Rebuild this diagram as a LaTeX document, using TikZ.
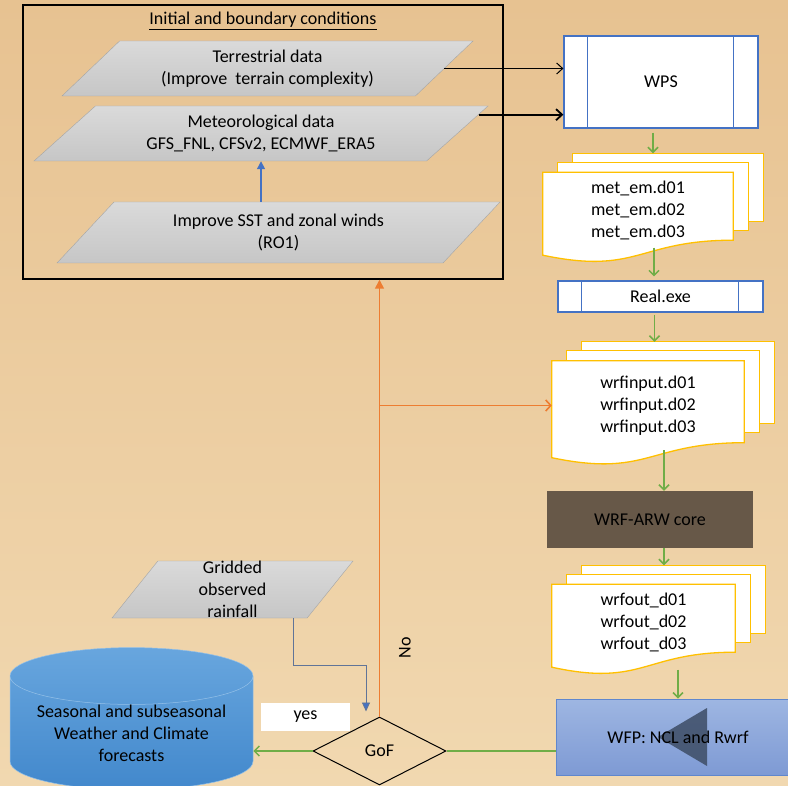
\documentclass[tikz,border=0pt]{standalone}
\usepackage{fontspec}
\setmainfont{Carlito}
\usetikzlibrary{shapes.geometric, arrows.meta, positioning, calc, backgrounds}
\definecolor{bgtop}{RGB}{231,194,145}
\definecolor{bgbot}{RGB}{241,216,176}
\definecolor{datatop}{RGB}{218,218,218}
\definecolor{databot}{RGB}{198,198,198}
\definecolor{dataedge}{RGB}{165,165,165}
\definecolor{progblue}{RGB}{68,114,196}
\definecolor{docyellow}{RGB}{255,192,0}
\definecolor{flowgreen}{RGB}{112,173,71}
\definecolor{looporange}{RGB}{237,125,49}
\definecolor{corebrown}{RGB}{103,88,72}
\definecolor{wfptop}{RGB}{158,182,226}
\definecolor{wfpbot}{RGB}{126,154,212}
\definecolor{wfptri}{RGB}{66,82,108}
\definecolor{storeblue}{RGB}{66,136,204}
\definecolor{storetop}{RGB}{104,166,222}
\definecolor{obsline}{RGB}{96,116,152}
\tikzset{
    base/.style={text centered, align=center, font=\fontsize{18}{22}\selectfont},
    datain/.style={base, trapezium, trapezium left angle=33, trapezium right angle=147, trapezium stretches body, draw=dataedge, top color=datatop, bottom color=databot, inner sep=0pt},
    program/.style={base, rectangle, draw=progblue, fill=white, line width=1.2pt},
    progbar/.style={draw=progblue, line width=1.2pt},
    docfile/.style={base, rectangle, inner sep=0pt},
    docpage/.style={draw=docyellow, fill=white, line width=1.3pt},
    core/.style={base, rectangle, fill=corebrown, text=black},
    post/.style={base, rectangle, draw=progblue!85, line width=0.8pt, top color=wfptop, bottom color=wfpbot,
        path picture={\fill[wfptri, opacity=0.9] ([xshift=-20pt]path picture bounding box.center) -- ([xshift=29pt,yshift=29pt]path picture bounding box.center) -- ([xshift=29pt,yshift=-29pt]path picture bounding box.center) -- cycle;}},
    decision/.style={base, diamond, draw=black, line width=1pt, inner sep=0pt},
    store/.style={base, cylinder, shape border rotate=90, aspect=0.3, top color=storetop, bottom color=storeblue, draw=storetop!70!white, line width=0.5pt, inner sep=0pt},
    tag/.style={base, rectangle, fill=white, inner sep=0pt},
    module/.style={rectangle, draw=black, line width=1.5pt},
    greenarrow/.style={line width=1.5pt, draw=flowgreen, -{Straight Barb[length=5pt,width=10pt]}},
    greenline/.style={line width=1.5pt, draw=flowgreen},
    thinarrow/.style={line width=1pt, -{Straight Barb[length=6pt,width=11pt]}},
    thickarrow/.style={line width=1.8pt, -{Straight Barb[length=6pt,width=11pt]}},
    bluearrow/.style={line width=1.3pt, draw=progblue, -{Triangle[length=8pt,width=8pt]}},
    obsarrow/.style={line width=0.9pt, draw=obsline, -{Triangle[length=9pt,width=8pt, fill=progblue]}},
    orangeup/.style={line width=1.6pt, draw=looporange, -{Triangle[length=9pt,width=9pt]}},
    orangearrow/.style={line width=1.6pt, draw=looporange, -{Straight Barb[length=5pt,width=11pt]}}
}
% three stacked pages behind a file node
\newcommand{\docstack}[1]{%
    \begin{scope}[on background layer]
        \filldraw[docpage] ([shift={(30,-19)}]#1.north west) rectangle ([shift={(30,-26.5)}]#1.south east);
        \filldraw[docpage] ([shift={(15,-10)}]#1.north west) rectangle ([shift={(15,-17.5)}]#1.south east);
        \filldraw[docpage] (#1.north west) -- (#1.north east) -- ([shift={(0,-7.5)}]#1.south east)
            .. controls ([shift={(0,-7.5)}]#1.south) and ([shift={(0,27.5)}]#1.south) .. ([shift={(0,7.5)}]#1.south west) -- cycle;
    \end{scope}
    \coordinate (#1-top) at ([shift={(30,-19)}]#1.north);
}
% side bars of a program box
\newcommand{\progbars}[1]{%
    \draw[progbar] ([xshift=24pt]#1.north west) -- ([xshift=24pt]#1.south west);
    \draw[progbar] ([xshift=-25pt]#1.north east) -- ([xshift=-25pt]#1.south east);
}

\begin{document}
\begin{tikzpicture}[x=1pt, y=-1pt]
    \useasboundingbox (0,0) rectangle (788,786);
    \begin{scope}[on background layer]
        \shade[top color=bgtop, bottom color=bgbot] (0,0) rectangle (788,786);
    \end{scope}

    % -- Initial and boundary conditions --
    \node (ibc) [module, minimum width=480pt, minimum height=274pt] at (263,142) {};
    \node (ibctitle) [base] at (263,21) {\underline{Initial and boundary conditions}};
    \node (terr) [datain, minimum width=411pt, minimum height=55pt] at (267.5,68.5) {Terrestrial data\\(Improve~ terrain complexity)};
    \node (met) [datain, trapezium left angle=31, trapezium right angle=149, minimum width=454pt, minimum height=55pt] at (261,133.5) {Meteorological data\\GFS\_FNL, CFSv2, ECMWF\_ERA5};
    \node (sst) [datain, minimum width=443pt, minimum height=61pt] at (278.5,232.5) {Improve SST and zonal winds\\(RO1)};

    % -- WRF chain --
    \node (wps) [program, minimum width=194pt, minimum height=92pt] at (661,82) {WPS};
    \node (metem) [docfile, minimum width=190pt, minimum height=75pt] at (638,210) {met\_em.d01\\met\_em.d02\\met\_em.d03};
    \node (real) [program, minimum width=205pt, minimum height=31pt] at (660.5,296.5) {Real.exe};
    \node (wrfin) [docfile, minimum width=192pt, minimum height=89pt] at (648,405.5) {wrfinput.d01\\wrfinput.d02\\wrfinput.d03};
    \node (core) [core, minimum width=206pt, minimum height=57pt] at (650,519.5) {WRF-ARW core};
    \node (wrfout) [docfile, minimum width=183pt, minimum height=75pt] at (643.5,622) {wrfout\_d01\\wrfout\_d02\\wrfout\_d03};
    \node (wfp) [post, minimum width=244pt, minimum height=76pt] at (678,737) {WFP: NCL and Rwrf};
    \progbars{wps}
    \progbars{real}
    \docstack{metem}
    \docstack{wrfin}
    \docstack{wrfout}

    % -- Evaluation --
    \node (grid) [datain, trapezium left angle=51, trapezium right angle=129, minimum width=241pt, minimum height=57pt] at (232.5,589.5) {Gridded\\observed\\rainfall};
    \node (gof) [decision, minimum width=133pt, minimum height=68pt] at (379.5,751) {GoF};
    \node (store) [store, minimum width=243pt, minimum height=130pt] at (131.5,733) {Seasonal and subseasonal\\Weather and Climate\\forecasts};
    \node (yes) [tag, minimum width=89pt, minimum height=28pt] at (305.5,717) {yes};
    \node (no) [base, rotate=90] at (405,648) {No};

    % Connectors
    \draw [bluearrow] (met.south |- sst.north) -- (met.south);
    \draw [thinarrow] (terr.east) -- (terr.east -| wps.west);
    \coordinate (metout) at ($(met.top right corner)!0.16!(met.bottom right corner)$);
    \draw [thickarrow] (metout) -- (metout -| wps.west);
    \draw [greenarrow, shorten <=4pt] ([xshift=-8pt]wps.south) -- ([xshift=-8pt]wps.south |- metem-top);
    \draw [greenarrow, shorten >=4pt] ([xshift=16pt]metem.south) -- ([xshift=16pt]metem.south |- real.north);
    \draw [greenarrow, shorten <=2pt] ([xshift=-6pt]real.south) -- ([xshift=-6pt]real.south |- wrfin-top);
    \draw [greenarrow] ([xshift=16pt]wrfin.south) -- ([xshift=16pt]wrfin.south |- core.north);
    \draw [greenarrow] ([xshift=14pt]core.south) -- ([xshift=14pt]core.south |- wrfout-top);
    \draw [greenarrow, shorten <=10pt] (wfp.north |- wrfout.south) -- (wfp.north);
    \draw [greenline] (gof.east) -- (gof.east -| wfp.west);
    \draw [greenarrow] (gof.west) -- (gof.west -| store.east);
    \draw [orangeup] (gof.north) -- (gof.north |- ibc.south);
    \draw [orangearrow] (gof.north |- wrfin.west) -- (wrfin.west);
    \coordinate (gridout) at ($(grid.bottom left corner)!0.93!(grid.bottom right corner)$);
    \draw [obsarrow] (gridout) -- ++(0,47) -| ([xshift=-13.5pt,yshift=5pt]gof.north);
\end{tikzpicture}
\end{document}
